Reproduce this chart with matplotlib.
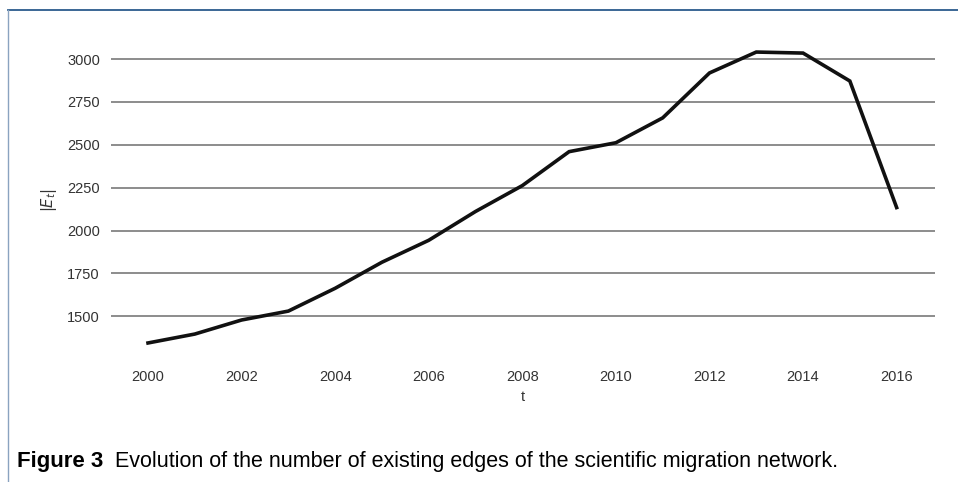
import matplotlib.pyplot as plt
from matplotlib.lines import Line2D

years = list(range(2000, 2017))
edges = [1344, 1396, 1478, 1530, 1663, 1815, 1943, 2111, 2262,
         2460, 2512, 2657, 2919, 3041, 3035, 2872, 2134]
y_ticks = [1500, 1750, 2000, 2250, 2500, 2750, 3000]
x_ticks = list(range(2000, 2017, 2))

plt.rcParams['font.family'] = ['Liberation Sans', 'DejaVu Sans']

fig = plt.figure(figsize=(9.58, 4.82), dpi=100)
ax = fig.add_axes([0.1159, 0.255, 0.976 - 0.1159, 0.913 - 0.255])

ax.plot(years, edges, color='#111111', lw=2.6, solid_joinstyle='miter', clip_on=False, zorder=3)

ax.set_xlim(1999.21, 2016.82)
ax.set_ylim(1250, 3100)
ax.set_yticks(y_ticks)
ax.set_xticks(x_ticks)
ax.tick_params(length=0, labelsize=10.5, colors='#333333', pad=8)
ax.tick_params(axis='x', pad=8)
ax.grid(axis='y', color='#8c8c8c', lw=1.4)
ax.set_axisbelow(True)
for s in ax.spines.values():
    s.set_visible(False)

ax.set_xlabel('t', fontsize=10.5, color='#333333', labelpad=4)
ax.set_ylabel('$|E_t|$', fontsize=10.5, color='#333333', labelpad=6)

# frame of the figure box
fig.add_artist(Line2D([8 / 958, 1], [1 - 10 / 482, 1 - 10 / 482], color='#2b5b8c', lw=1.3))
fig.add_artist(Line2D([8 / 958, 8 / 958], [0, 1 - 10 / 482], color='#8aa3c0', lw=1.0))

fig.text(17 / 958, 1 - 462 / 482, 'Figure 3', fontsize=16, fontweight='bold', va='center')
fig.text(115 / 958, 1 - 462 / 482,
         'Evolution of the number of existing edges of the scientific migration network.',
         fontsize=15.5, va='center')

fig.savefig('out.png', dpi=100)
